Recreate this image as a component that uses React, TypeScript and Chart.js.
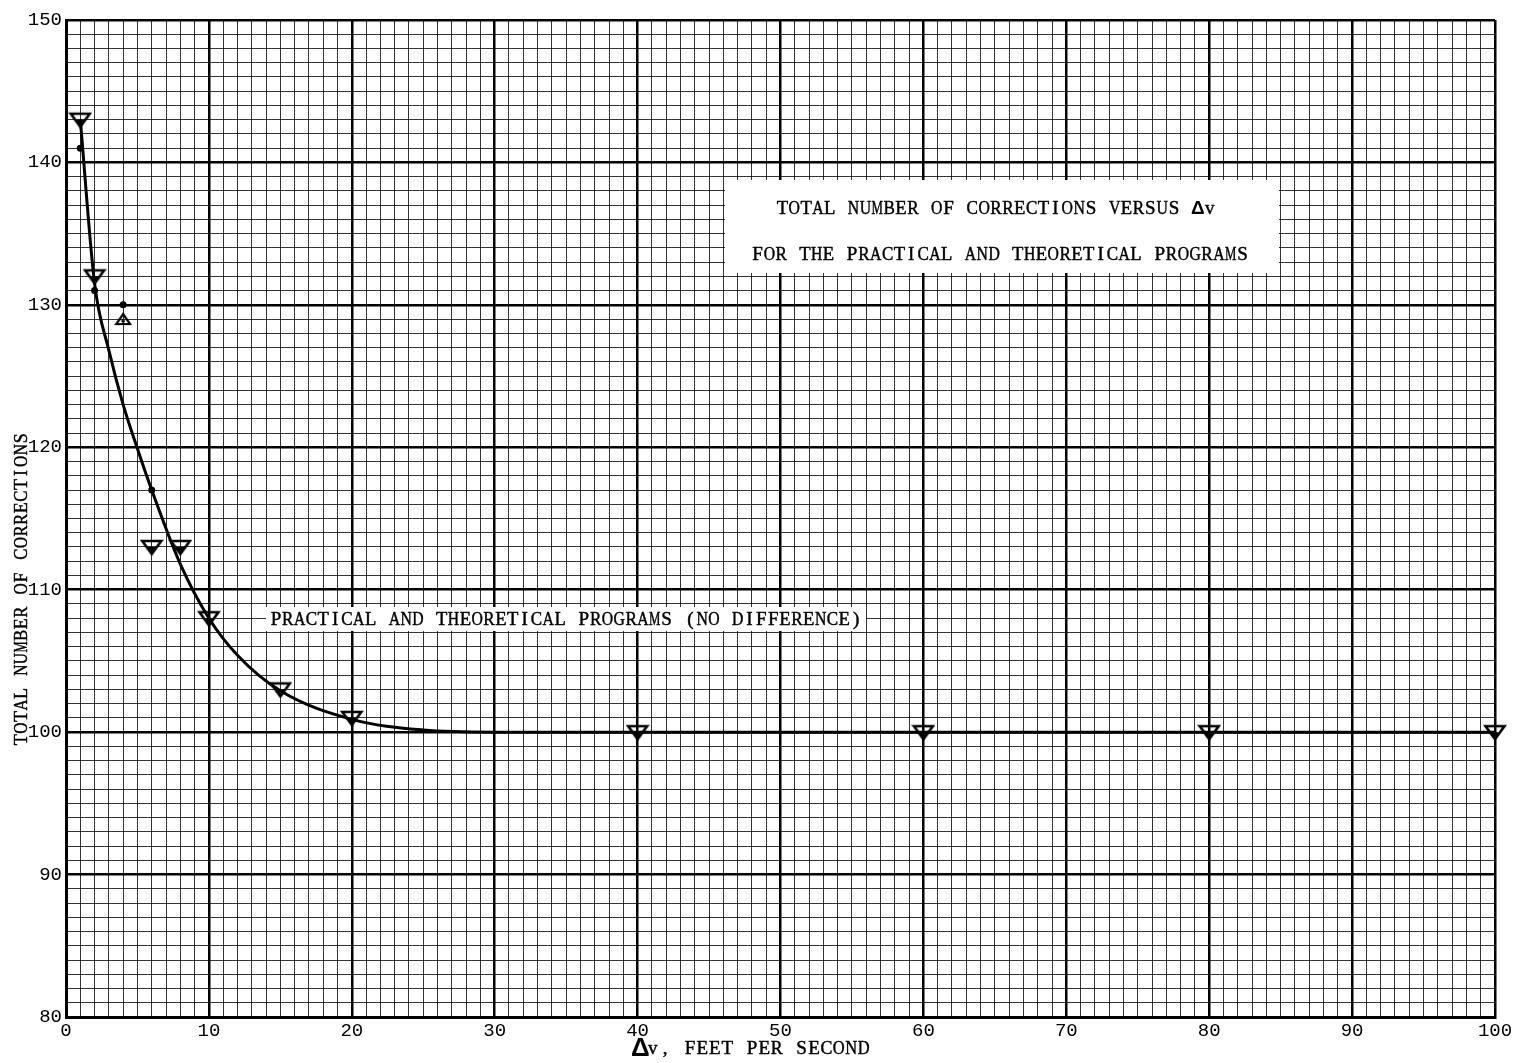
import React, { useEffect, useRef } from "react";
import { Chart, registerables } from "chart.js";

Chart.register(...registerables);

// ---- data ----
const curveX = [1, 2, 3, 4, 5, 6, 8, 10, 12, 15, 20, 25, 30, 40, 60, 80, 100];
const curveY = [143, 131.5, 126.8, 123, 119.9, 117, 111.8, 108, 105.4, 102.9, 100.9, 100.15, 100, 100, 100, 100, 100];

const downTriX = [1, 2, 6, 8, 10, 15, 20, 40, 60, 80, 100];
const downTriY = [143, 132, 113, 113, 108, 103, 101, 100, 100, 100, 100];

const upTriX = [4];
const upTriY = [129];

const dotX = [1, 2, 4, 6];
const dotY = [141, 131, 130, 117];

const xTickLabels = [0, 10, 20, 30, 40, 50, 60, 70, 80, 90, 100];
const yTickLabels = [80, 90, 100, 110, 120, 130, 140, 150];

const titleLines = [
  "TOTAL NUMBER OF CORRECTIONS VERSUS Δv",
  "FOR THE PRACTICAL AND THEORETICAL PROGRAMS",
];
const curveLabel = "PRACTICAL AND THEORETICAL PROGRAMS (NO DIFFERENCE)";
const yTitle = "TOTAL NUMBER OF CORRECTIONS";
const xTitle = "Δv, FEET PER SECOND";

const toPoints = (xs: number[], ys: number[]) => xs.map((x, i) => ({ x, y: ys[i] }));

function makeDownTriangle(): HTMLCanvasElement {
  const c = document.createElement("canvas");
  c.width = 24;
  c.height = 18;
  const g = c.getContext("2d")!;
  g.strokeStyle = "#000";
  g.lineWidth = 2.6;
  g.lineJoin = "miter";
  g.beginPath();
  g.moveTo(2.5, 3);
  g.lineTo(21.5, 3);
  g.lineTo(12, 16);
  g.closePath();
  g.stroke();
  g.fillStyle = "#000";
  g.beginPath();
  g.moveTo(8, 9);
  g.lineTo(16, 9);
  g.lineTo(12, 15);
  g.closePath();
  g.fill();
  return c;
}

function makeUpTriangle(): HTMLCanvasElement {
  const c = document.createElement("canvas");
  c.width = 18;
  c.height = 14;
  const g = c.getContext("2d")!;
  g.strokeStyle = "#000";
  g.lineWidth = 2.2;
  g.beginPath();
  g.moveTo(9, 2);
  g.lineTo(16, 12);
  g.lineTo(2, 12);
  g.closePath();
  g.stroke();
  g.fillStyle = "#000";
  g.beginPath();
  g.arc(9, 9, 1.8, 0, Math.PI * 2);
  g.fill();
  return c;
}

function drawMono(
  ctx: CanvasRenderingContext2D,
  text: string,
  cx: number,
  cy: number,
  cell: number,
  size: number,
  deltaSize: number
) {
  const chars = Array.from(text);
  let x = cx - (chars.length * cell) / 2 + cell / 2;
  ctx.textAlign = "center";
  ctx.textBaseline = "middle";
  ctx.strokeStyle = "#000";
  ctx.lineWidth = 0.45;
  for (const ch of chars) {
    if (ch === "Δ") {
      ctx.font = `bold ${deltaSize}px 'Liberation Sans'`;
      ctx.fillText(ch, x, cy, deltaSize);
    } else if (ch !== " ") {
      ctx.font = `${size}px 'Liberation Serif'`;
      ctx.fillText(ch, x, cy, cell * 0.96);
      ctx.strokeText(ch, x, cy, cell * 0.96);
    }
    x += cell;
  }
}

const annotationPlugin = {
  id: "annotations",
  beforeDatasetsDraw(chart: any) {
    const ctx: CanvasRenderingContext2D = chart.ctx;
    ctx.save();
    ctx.fillStyle = "#fff";
    ctx.fillRect(725, 180, 554, 93);
    ctx.fillRect(266, 607, 600, 24);
    ctx.restore();
  },
  afterDraw(chart: any) {
    const ctx: CanvasRenderingContext2D = chart.ctx;
    ctx.save();
    ctx.fillStyle = "#000";
    drawMono(ctx, titleLines[0], 996, 209, 11.87, 19, 19);
    drawMono(ctx, titleLines[1], 1000, 255, 11.83, 19, 19);
    drawMono(ctx, curveLabel, 566, 620, 11.84, 19, 19);
    drawMono(ctx, xTitle, 752, 1049, 12.4, 19, 26);
    ctx.translate(22, 589);
    ctx.rotate(-Math.PI / 2);
    drawMono(ctx, yTitle, 0, 0, 11.6, 18, 18);
    ctx.restore();
  },
};

export default function App() {
  const ref = useRef<HTMLCanvasElement | null>(null);

  useEffect(() => {
    if (!ref.current) return;
    const downTri = makeDownTriangle();
    const upTri = makeUpTriangle();
    const isMajor = (v: number) => Math.abs(v % 10) < 1e-6;

    const chart = new Chart(ref.current, {
      type: "line",
      data: {
        datasets: [
          {
            label: "curve",
            data: toPoints(curveX, curveY),
            borderColor: "#000",
            borderWidth: 3,
            pointRadius: 0,
            cubicInterpolationMode: "monotone",
            fill: false,
            order: 2,
          },
          {
            label: "down",
            data: toPoints(downTriX, downTriY),
            showLine: false,
            pointStyle: downTri,
            pointRadius: 9,
            clip: false,
            order: 1,
          },
          {
            label: "up",
            data: toPoints(upTriX, upTriY),
            showLine: false,
            pointStyle: upTri,
            pointRadius: 7,
            clip: false,
            order: 1,
          },
          {
            label: "dots",
            data: toPoints(dotX, dotY),
            showLine: false,
            pointStyle: "circle",
            pointRadius: 3.5,
            backgroundColor: "#000",
            borderColor: "#000",
            borderWidth: 0,
            clip: false,
            order: 1,
          },
        ],
      } as any,
      options: {
        animation: false,
        responsive: false,
        devicePixelRatio: 1,
        layout: { padding: { left: 0, top: 20, right: 23, bottom: 0 } },
        plugins: {
          legend: { display: false },
          tooltip: { enabled: false },
          title: { display: false },
        },
        scales: {
          x: {
            type: "linear",
            min: 0,
            max: 100,
            afterFit: (s: any) => {
              s.height = 46;
            },
            ticks: {
              stepSize: 1,
              autoSkip: false,
              maxRotation: 0,
              padding: 3,
              color: "#000",
              font: { family: "'Liberation Mono'", size: 19 },
              callback: (v: any) => (xTickLabels.includes(Number(v)) ? String(v) : ""),
            },
            grid: {
              drawTicks: false,
              color: (c: any) => (isMajor(c.tick?.value ?? 1) ? "#000" : "rgba(0,0,0,0.8)"),
              lineWidth: (c: any) => (isMajor(c.tick?.value ?? 1) ? 2.5 : 1),
            },
            border: { display: true, color: "#000", width: 3 },
          },
          y: {
            type: "linear",
            min: 80,
            max: 150,
            afterFit: (s: any) => {
              s.width = 66;
            },
            ticks: {
              stepSize: 1,
              autoSkip: false,
              padding: 4,
              color: "#000",
              font: { family: "'Liberation Mono'", size: 19 },
              callback: (v: any) => (yTickLabels.includes(Number(v)) ? String(v) : ""),
            },
            grid: {
              drawTicks: false,
              color: (c: any) => (isMajor(c.tick?.value ?? 1) ? "#000" : "rgba(0,0,0,0.8)"),
              lineWidth: (c: any) => (isMajor(c.tick?.value ?? 1) ? 2.5 : 1),
            },
            border: { display: true, color: "#000", width: 3 },
          },
        },
      } as any,
      plugins: [annotationPlugin],
    });
    return () => chart.destroy();
  }, []);

  return (
    <div style={{ position: "fixed", left: 0, top: 0, width: 1518, height: 1063, background: "#fff" }}>
      <canvas ref={ref} width={1518} height={1063} style={{ display: "block" }} />
    </div>
  );
}
